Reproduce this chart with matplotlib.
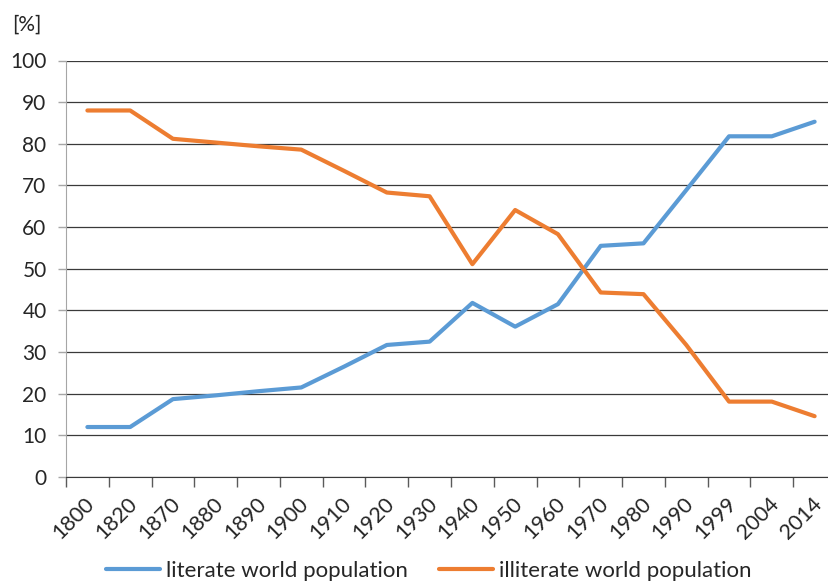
import numpy as np
import matplotlib.pyplot as plt
from matplotlib.transforms import ScaledTranslation

plt.rcParams['font.family'] = ['Lato', 'DejaVu Sans']

# data
years = ['1800', '1820', '1870', '1880', '1890', '1900', '1910', '1920', '1930',
         '1940', '1950', '1960', '1970', '1980', '1990', '1999', '2004', '2014']
literate = [12.0, 12.0, 18.7, 19.6, 20.6, 21.5, 26.5, 31.7, 32.5,
            41.8, 36.1, 41.5, 55.5, 56.1, 68.9, 81.8, 81.8, 85.3]
illiterate = [88.0, 88.0, 81.2, 80.3, 79.4, 78.6, 73.5, 68.3, 67.4,
              51.1, 64.1, 58.3, 44.3, 43.9, 31.7, 18.1, 18.1, 14.6]

blue = '#5B9BD5'
orange = '#ED7D31'
text_col = '#262626'

fig = plt.figure(figsize=(8.29, 5.83), dpi=100)
ax = fig.add_axes([66 / 829, 1 - 477 / 583, (836 - 66) / 829, (477 - 60.5) / 583])

x = np.arange(len(years))
ax.plot(x, literate, color=blue, lw=3, solid_capstyle='round', solid_joinstyle='round',
        label='literate world population', zorder=3)
ax.plot(x, illiterate, color=orange, lw=3, solid_capstyle='round', solid_joinstyle='round',
        label='illiterate world population', zorder=3)

ax.set_xlim(-0.5, len(years) - 0.5)
ax.set_ylim(0, 100)

# y axis
ax.set_yticks(np.arange(0, 101, 10))
ax.tick_params(axis='y', direction='out', length=6, width=1, color='#a6a6a6',
               labelsize=15, labelcolor=text_col, pad=8)
ax.yaxis.grid(True, color='#3a3a3a', lw=0.9)
ax.set_axisbelow(True)

# x axis: ticks between categories, labels at centers
ax.set_xticks(np.arange(len(years)) - 0.5)
ax.set_xticklabels([])
ax.tick_params(axis='x', which='major', direction='out', length=7, width=1, color='#5a5a5a')
ax.set_xticks(x, minor=True)
ax.set_xticklabels(years, minor=True, rotation=45, ha='right', va='center',
                   rotation_mode='anchor', fontsize=15.5, color=text_col)
ax.tick_params(axis='x', which='minor', length=0, pad=17)
offset = ScaledTranslation(3 / 72, 0, fig.dpi_scale_trans)
for lab in ax.get_xticklabels(minor=True):
    lab.set_transform(lab.get_transform() + offset)

for s in ['top', 'right']:
    ax.spines[s].set_visible(False)
ax.spines['left'].set_color('#a6a6a6')
ax.spines['bottom'].set_color('#3a3a3a')
ax.spines['bottom'].set_zorder(2.5)

fig.text(12 / 829, 1 - 25 / 583, '[%]', fontsize=15, color=text_col, va='center', ha='left')

fig.legend(loc='center', bbox_to_anchor=(429 / 829, 1 - 571 / 583), ncol=2, frameon=False,
           fontsize=16, handlelength=2.4, handletextpad=0.3, columnspacing=1.4,
           labelcolor=text_col)

fig.savefig('out.png', dpi=100)
